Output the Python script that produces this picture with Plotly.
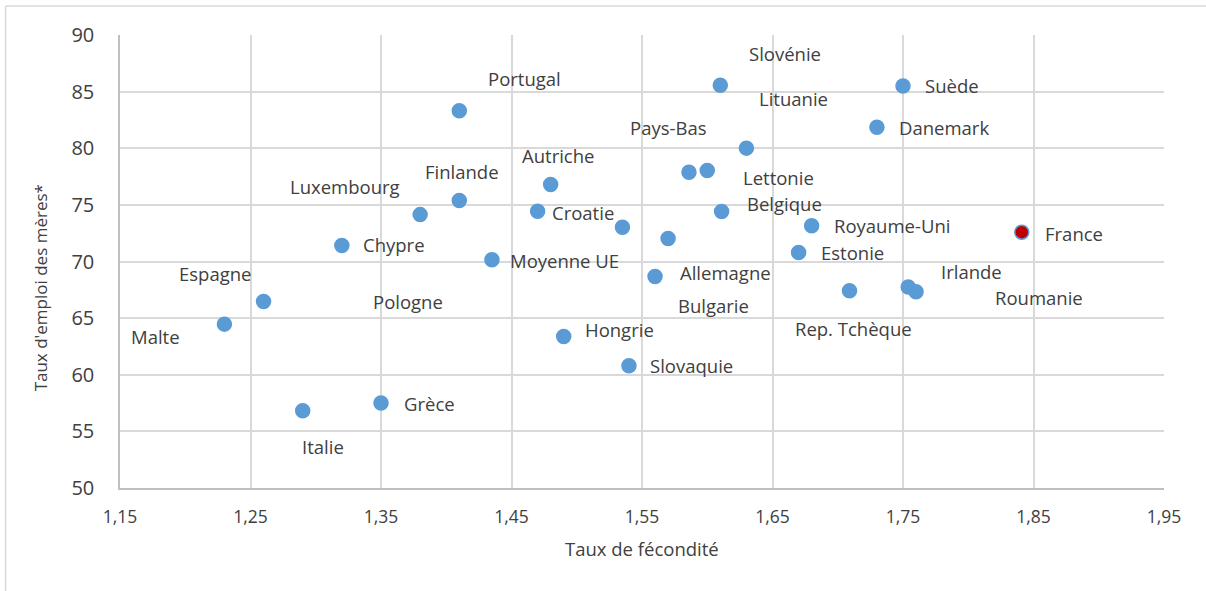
import plotly.graph_objects as go

# ---- data ----
pays = ["Malte", "Espagne", "Italie", "Chypre", "Grèce", "Luxembourg", "Portugal",
        "Finlande", "Moyenne UE", "Croatie", "Autriche", "Hongrie", "Pologne",
        "Slovaquie", "Allemagne", "Bulgarie", "Pays-Bas", "Lettonie", "Slovénie",
        "Belgique", "Lituanie", "Estonie", "Royaume-Uni", "Rep. Tchèque",
        "Danemark", "Suède", "Irlande", "Roumanie", "France"]
fecondite = [1.23, 1.26, 1.29, 1.32, 1.35, 1.38, 1.41,
             1.41, 1.435, 1.47, 1.48, 1.49, 1.535,
             1.54, 1.56, 1.57, 1.586, 1.60, 1.61,
             1.611, 1.63, 1.67, 1.68, 1.709,
             1.73, 1.75, 1.754, 1.76, 1.841]
emploi_meres = [64.47, 66.47, 56.82, 71.41, 57.5, 74.14, 83.32,
                75.38, 70.15, 74.44, 76.79, 63.38, 73.03,
                60.79, 68.68, 72.03, 77.89, 78.03, 85.56,
                74.41, 80.01, 70.79, 73.15, 67.41,
                81.86, 85.5, 67.74, 67.32, 72.59]
x_ticks = [1.15, 1.25, 1.35, 1.45, 1.55, 1.65, 1.75, 1.85, 1.95]
x_tick_labels = ["1,15", "1,25", "1,35", "1,45", "1,55", "1,65", "1,75", "1,85", "1,95"]
y_ticks = [50, 55, 60, 65, 70, 75, 80, 85, 90]
x_title = "Taux de fécondité"
y_title = "Taux d'emploi des mères*"

# label offsets in pixels (dx right, dy up) relative to each point
label_dx = [-69, -49, 20, 52, 48, -75, 65,
            3, 73, 45, 7, 56, -214,
            63, 70, 45, -20, 71, 65,
            63, 47, 54, 80, 4,
            67, 49, 63, 123, 52]
label_dy = [-12, 28, -36, 1, 0, 28, 32,
            29, -1, -1, 29, 7, -74,
            0, 4, -67, 45, -7, 32,
            8, 50, 0, 0, -38,
            0, 0, 16, -6, -1]

W, H = 1206, 591
ML, MR, MT, MB = 119.5, 42, 35, 102.7
font_family = "Open Sans"
text_color = "#404040"
grid_color = "#d9d9d9"

colors = ["#5B9BD5"] * len(pays)
colors[-1] = "#C00000"

fig = go.Figure()
fig.add_trace(go.Scatter(
    x=fecondite, y=emploi_meres, mode="markers",
    marker=dict(size=14, color=colors, line=dict(color="#5B9BD5", width=1.5)),
    text=pays, hoverinfo="text+x+y", showlegend=False,
))

pw = W - ML - MR
ph = H - MT - MB

annotations = []
for name, xv, yv, dx, dy in zip(pays, fecondite, emploi_meres, label_dx, label_dy):
    annotations.append(dict(
        x=xv, y=yv, xref="x", yref="y", text=name, showarrow=False,
        xshift=dx, yshift=dy, xanchor="center", yanchor="middle",
        font=dict(family=font_family, size=18.5, color=text_color),
    ))
# axis titles
annotations.append(dict(
    x=0.5, y=-(549 - MT - ph) / ph, xref="paper", yref="paper", text=x_title,
    showarrow=False, xanchor="center", yanchor="middle",
    font=dict(family=font_family, size=18.5, color=text_color),
))
annotations.append(dict(
    x=(40 - ML) / pw, y=1 - (288 - MT) / ph, xref="paper", yref="paper", text=y_title,
    showarrow=False, xanchor="center", yanchor="middle", textangle=-90,
    font=dict(family=font_family, size=17, color=text_color),
))

# outer chart border (left & top visible)
bx0 = (5 - ML) / pw
by_top = 1 + (MT - 6) / ph
by_bot = -(MB + 5) / ph
shapes = [
    dict(type="line", xref="paper", yref="paper", x0=bx0, x1=bx0, y0=by_bot, y1=by_top,
         line=dict(color=grid_color, width=1.5)),
    dict(type="line", xref="paper", yref="paper", x0=bx0, x1=1 + (MR + 5) / pw, y0=by_top, y1=by_top,
         line=dict(color=grid_color, width=1.5)),
]

fig.update_layout(
    width=W, height=H,
    margin=dict(l=ML, r=MR, t=MT, b=MB, pad=0, autoexpand=False),
    paper_bgcolor="white", plot_bgcolor="white",
    font=dict(family=font_family, color=text_color),
    annotations=annotations, shapes=shapes,
    xaxis=dict(
        range=[1.15, 1.95], tickvals=x_ticks, ticktext=x_tick_labels,
        showgrid=True, gridcolor=grid_color, gridwidth=1.5,
        showline=True, linecolor="#bfbfbf", linewidth=1.5, mirror=False,
        zeroline=False, ticks="", tickfont=dict(size=17.5, color=text_color),
        ticklabelstandoff=12, automargin=False,
    ),
    yaxis=dict(
        range=[50, 90], tickvals=y_ticks,
        showgrid=True, gridcolor=grid_color, gridwidth=1.5,
        showline=True, linecolor="#bfbfbf", linewidth=1.5,
        zeroline=False, ticks="", tickfont=dict(size=20, color=text_color),
        ticklabelstandoff=20, automargin=False,
    ),
)

fig.write_html("out.html", config={"displayModeBar": False},
               post_script="document.body.style.margin='0';")
